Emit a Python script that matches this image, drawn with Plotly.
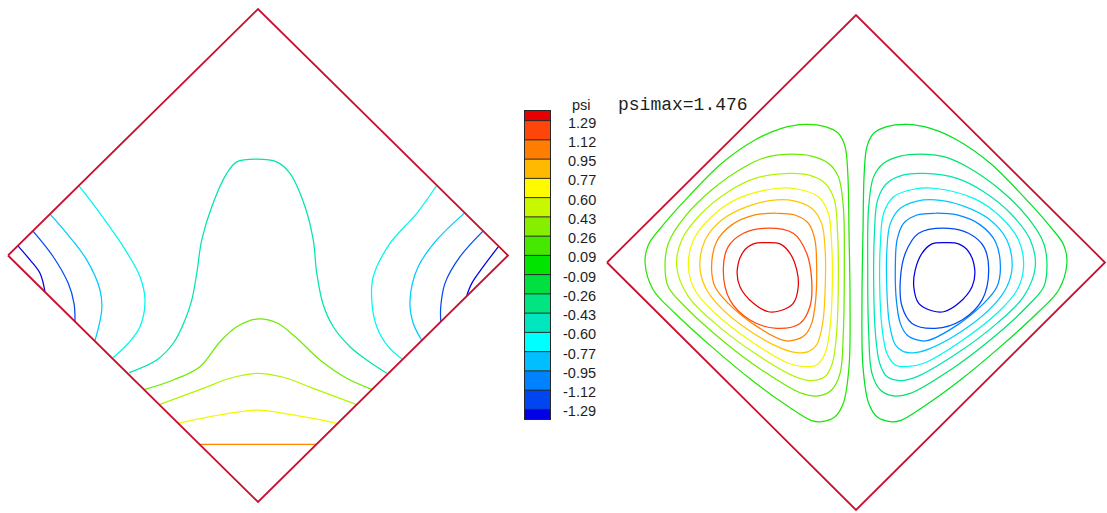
import plotly.graph_objects as go
from plotly.colors import sample_colorscale

W, H = 1107, 513

# ---- colour key -------------------------------------------------------------
levels = [-1.290, -1.118, -0.946, -0.774, -0.602, -0.430, -0.258, -0.086,
          0.086, 0.258, 0.430, 0.602, 0.774, 0.946, 1.118, 1.290]
band_colors = [
    "rgb(0,0,230)", "rgb(0,70,240)", "rgb(0,130,255)", "rgb(0,190,255)",
    "rgb(0,255,255)", "rgb(0,230,190)", "rgb(0,228,130)", "rgb(0,225,65)",
    "rgb(0,228,0)", "rgb(70,232,0)", "rgb(135,238,0)", "rgb(200,248,0)",
    "rgb(255,250,0)", "rgb(255,185,0)", "rgb(255,125,0)", "rgb(255,70,10)",
    "rgb(232,0,0)",
]
psi_max = 1.476

# ---- left panel: isolines (diamond frame, corners at (+-1,0), (0,+-1)) ------
left_levels = [0.946, 0.602, 0.430, 0.258, -0.430,
               -0.602, -0.774, -1.118, -1.290,
               -0.602, -0.774, -1.118, -1.290]
left_x = [
    [-0.233, 0.000, 0.233],
    [-0.319, -0.152, -0.005, 0.141, 0.317],
    [-0.392, -0.219, -0.112, -0.005, 0.101, 0.221, 0.392],
    [-0.452, -0.339, -0.232, -0.152, -0.085, -0.005, 0.075, 0.148, 0.248, 0.355, 0.455],
    [-0.515, -0.405, -0.339, -0.292, -0.265, -0.245, -0.225, -0.185, -0.125, -0.085,
     -0.005, 0.075, 0.128, 0.188, 0.221, 0.235, 0.261, 0.301, 0.368, 0.435, 0.515],
    [-0.716, -0.632, -0.539, -0.472, -0.452, -0.472, -0.519, -0.579],
    [-0.832, -0.765, -0.685, -0.632, -0.625, -0.652],
    [-0.900, -0.819, -0.759, -0.736, -0.732],
    [-0.960, -0.912, -0.872, -0.852],
    [0.716, 0.635, 0.528, 0.461, 0.455, 0.475, 0.521, 0.575],
    [0.828, 0.715, 0.641, 0.608, 0.621, 0.655],
    [0.900, 0.808, 0.748, 0.731, 0.731],
    [0.964, 0.901, 0.855, 0.835],
]
left_y = [
    [-0.766, -0.766, -0.766],
    [-0.681, -0.647, -0.627, -0.647, -0.681],
    [-0.604, -0.539, -0.498, -0.478, -0.494, -0.539, -0.604],
    [-0.543, -0.505, -0.451, -0.350, -0.289, -0.258, -0.273, -0.329, -0.424, -0.498, -0.543],
    [-0.475, -0.424, -0.356, -0.262, -0.181, -0.072, 0.063, 0.198, 0.333, 0.380,
     0.391, 0.380, 0.333, 0.198, 0.063, -0.072, -0.200, -0.289, -0.370, -0.424, -0.478],
    [0.282, 0.171, 0.036, -0.086, -0.181, -0.289, -0.356, -0.414],
    [0.168, 0.090, -0.018, -0.140, -0.221, -0.345],
    [0.099, -0.005, -0.113, -0.194, -0.268],
    [0.039, -0.018, -0.072, -0.148],
    [0.286, 0.171, 0.049, -0.086, -0.181, -0.289, -0.370, -0.419],
    [0.174, 0.063, -0.045, -0.181, -0.275, -0.344],
    [0.099, -0.005, -0.113, -0.208, -0.268],
    [0.039, -0.045, -0.113, -0.163],
]

# ---- right panel: streamlines of the two counter-rotating cells -------------
cw_levels = [0.086, 0.258, 0.430, 0.602, 0.774, 0.946, 1.118, 1.290]
cw_x = [
    [-0.847, -0.834, -0.780, -0.673, -0.539, -0.406, -0.299, -0.205, -0.124, -0.071, -0.044, -0.033,
     -0.028, -0.024, -0.028, -0.051, -0.084, -0.138, -0.178, -0.272, -0.419, -0.580, -0.727, -0.814],
    [-0.767, -0.754, -0.687, -0.580, -0.446, -0.352, -0.258, -0.178, -0.111, -0.071, -0.051,
     -0.047, -0.051, -0.064, -0.098, -0.151, -0.218, -0.379, -0.539, -0.687, -0.754],
    [-0.720, -0.700, -0.620, -0.513, -0.406, -0.272, -0.191, -0.124, -0.087, -0.074,
     -0.071, -0.078, -0.095, -0.124, -0.178, -0.245, -0.406, -0.566, -0.673],
    [-0.673, -0.653, -0.580, -0.473, -0.312, -0.232, -0.151, -0.111, -0.098,
     -0.095, -0.104, -0.124, -0.158, -0.205, -0.272, -0.419, -0.566, -0.647],
    [-0.627, -0.606, -0.539, -0.432, -0.319, -0.245, -0.178, -0.138, -0.124,
     -0.124, -0.134, -0.158, -0.191, -0.238, -0.299, -0.432, -0.553, -0.606],
    [-0.580, -0.560, -0.499, -0.406, -0.319, -0.245, -0.191, -0.165, -0.158,
     -0.162, -0.178, -0.205, -0.245, -0.285, -0.406, -0.513, -0.566],
    [-0.372, -0.252, -0.198, -0.178, -0.185, -0.225, -0.319, -0.426, -0.506, -0.533, -0.513, -0.452],
    [-0.365, -0.305, -0.265, -0.238, -0.232, -0.252, -0.305, -0.352, -0.412, -0.466, -0.477, -0.452, -0.412],
]
cw_y = [
    [-0.003, 0.071, 0.145, 0.266, 0.401, 0.495, 0.542, 0.558, 0.549, 0.522, 0.468, 0.360,
     0.118, -0.152, -0.421, -0.569, -0.623, -0.643, -0.639, -0.582, -0.475, -0.340, -0.205, -0.111],
    [-0.017, 0.077, 0.185, 0.293, 0.387, 0.428, 0.438, 0.430, 0.401, 0.347, 0.226,
     -0.017, -0.286, -0.448, -0.515, -0.539, -0.529, -0.434, -0.313, -0.178, -0.098],
    [-0.017, 0.091, 0.199, 0.286, 0.340, 0.360, 0.354, 0.320, 0.253, 0.118,
     -0.084, -0.286, -0.407, -0.461, -0.477, -0.461, -0.367, -0.246, -0.138],
    [-0.017, 0.091, 0.185, 0.259, 0.300, 0.296, 0.266, 0.199, 0.077,
     -0.084, -0.259, -0.367, -0.414, -0.421, -0.407, -0.320, -0.205, -0.111],
    [-0.017, 0.091, 0.172, 0.228, 0.253, 0.248, 0.219, 0.158, 0.051,
     -0.111, -0.246, -0.333, -0.360, -0.364, -0.347, -0.273, -0.172, -0.098],
    [-0.017, 0.084, 0.152, 0.192, 0.199, 0.192, 0.158, 0.091, -0.017,
     -0.152, -0.246, -0.293, -0.313, -0.316, -0.253, -0.165, -0.098],
    [0.138, 0.118, 0.037, -0.071, -0.178, -0.246, -0.266, -0.232, -0.152, -0.030, 0.064, 0.118],
    [0.080, 0.075, 0.037, -0.030, -0.098, -0.165, -0.195, -0.199, -0.165, -0.098, -0.030, 0.044, 0.075],
]
ccw_levels = [-0.086, -0.258, -0.430, -0.602, -0.774, -0.946, -1.118, -1.290]
ccw_x = [
    [0.847, 0.834, 0.780, 0.673, 0.539, 0.406, 0.299, 0.205, 0.124, 0.071, 0.044, 0.033,
     0.028, 0.024, 0.028, 0.051, 0.084, 0.138, 0.178, 0.272, 0.419, 0.580, 0.727, 0.814],
    [0.767, 0.754, 0.687, 0.580, 0.446, 0.352, 0.258, 0.178, 0.111, 0.071, 0.051,
     0.047, 0.051, 0.064, 0.098, 0.151, 0.218, 0.379, 0.539, 0.687, 0.754],
    [0.720, 0.700, 0.620, 0.513, 0.406, 0.272, 0.191, 0.124, 0.087, 0.074,
     0.071, 0.078, 0.095, 0.124, 0.178, 0.245, 0.406, 0.566, 0.673],
    [0.673, 0.653, 0.580, 0.473, 0.312, 0.232, 0.151, 0.111, 0.098,
     0.095, 0.104, 0.124, 0.158, 0.205, 0.272, 0.419, 0.566, 0.647],
    [0.627, 0.606, 0.539, 0.432, 0.319, 0.245, 0.178, 0.138, 0.124,
     0.124, 0.134, 0.158, 0.191, 0.238, 0.299, 0.432, 0.553, 0.606],
    [0.580, 0.560, 0.499, 0.406, 0.319, 0.245, 0.191, 0.165, 0.158,
     0.162, 0.178, 0.205, 0.245, 0.285, 0.406, 0.513, 0.566],
    [0.372, 0.252, 0.198, 0.178, 0.185, 0.225, 0.319, 0.426, 0.506, 0.533, 0.513, 0.452],
    [0.365, 0.305, 0.265, 0.238, 0.232, 0.252, 0.305, 0.352, 0.412, 0.466, 0.477, 0.452, 0.412],
]
ccw_y = cw_y

# cavity outline (square rotated by 45 degrees)
boundary_x = [-1, 0, 1, 0, -1]
boundary_y = [0, 1, 0, -1, 0]

# ---- helpers ----------------------------------------------------------------
half_step = (levels[1] - levels[0]) / 2
z_lo, z_hi = levels[0] - half_step, levels[-1] + half_step
n_bands = len(band_colors)
scale = [[k / (n_bands - 1), c] for k, c in enumerate(band_colors)]


def level_color(v):
    # isolines take the colour map over the span of the contour levels
    t = (v - levels[0]) / (levels[-1] - levels[0])
    return sample_colorscale(scale, [min(1.0, max(0.0, t))])[0]


def iso_trace(xs, ys, v, xa, ya, closed=False):
    if closed:
        xs = list(xs) + [xs[0]]
        ys = list(ys) + [ys[0]]
    return go.Scatter(
        x=xs, y=ys, mode="lines", xaxis=xa, yaxis=ya,
        line=dict(color=level_color(v), width=1.25, shape="spline", smoothing=1.0),
        hoverinfo="skip", showlegend=False,
    )


fig = go.Figure()

for xs, ys, v in zip(left_x, left_y, left_levels):
    fig.add_trace(iso_trace(xs, ys, v, "x", "y"))
for xs, ys, v in zip(cw_x, cw_y, cw_levels):
    fig.add_trace(iso_trace(xs, ys, v, "x2", "y2", closed=True))
for xs, ys, v in zip(ccw_x, ccw_y, ccw_levels):
    fig.add_trace(iso_trace(xs, ys, v, "x2", "y2", closed=True))

edge = "rgb(200,16,48)"
for xa, ya in (("x", "y"), ("x2", "y2")):
    fig.add_trace(go.Scatter(x=boundary_x, y=boundary_y, mode="lines", xaxis=xa, yaxis=ya,
                             line=dict(color=edge, width=1.8), hoverinfo="skip",
                             showlegend=False))

# colour key drawn as a one-column heatmap with level separators
band_edges = [z_lo] + levels + [z_hi]
fig.add_trace(go.Heatmap(
    x=[0, 1], y=band_edges, z=[[k] for k in range(n_bands)],
    zmin=0, zmax=n_bands - 1, colorscale=scale, showscale=False,
    xaxis="x3", yaxis="y3", hoverinfo="skip",
))
sep_x, sep_y = [], []
for v in levels:
    sep_x += [0, 1, None]
    sep_y += [v, v, None]
fig.add_trace(go.Scatter(x=sep_x, y=sep_y, mode="lines", xaxis="x3", yaxis="y3",
                         line=dict(color="rgb(40,40,40)", width=1), hoverinfo="skip",
                         showlegend=False))

# ---- layout -----------------------------------------------------------------
PAD = 0.008


def dom_x(cx, hw):
    return [max(0.0, (cx - hw * (1 + PAD)) / W), min(1.0, (cx + hw * (1 + PAD)) / W)]


def dom_y(cy, hh):
    return [max(0.0, 1 - (cy + hh * (1 + PAD)) / H), min(1.0, 1 - (cy - hh * (1 + PAD)) / H)]


hidden = dict(visible=False, range=[-1 - PAD, 1 + PAD], fixedrange=True)
key_axis = dict(showline=True, mirror=True, linecolor="rgb(40,40,40)", linewidth=1,
                showticklabels=False, ticks="", showgrid=False, zeroline=False,
                fixedrange=True)

fig.update_layout(
    width=W, height=H, margin=dict(l=0, r=0, t=0, b=0),
    paper_bgcolor="white", plot_bgcolor="rgba(0,0,0,0)",
    xaxis=dict(hidden, domain=dom_x(258, 250)),
    yaxis=dict(hidden, domain=dom_y(255.5, 246.5)),
    xaxis2=dict(hidden, domain=dom_x(856, 249)),
    yaxis2=dict(hidden, domain=dom_y(262.5, 247.5)),
    xaxis3=dict(key_axis, range=[0, 1], domain=[525 / W, 550 / W], anchor="y3"),
    yaxis3=dict(key_axis, range=[z_lo, z_hi], domain=[1 - 419 / H, 1 - 111 / H], anchor="x3"),
)

annotations = []
for v in levels:
    annotations.append(dict(
        text=f"{v:.2f}", xref="paper", yref="y3", x=598 / W, y=v,
        xanchor="right", yanchor="middle", yshift=-2, showarrow=False,
        font=dict(family="Liberation Sans, Arial, sans-serif", size=14.5, color="rgb(30,30,30)"),
    ))
annotations.append(dict(
    text="psi", xref="paper", yref="y3", x=581 / W, y=z_hi,
    xanchor="center", yanchor="bottom", yshift=-4, showarrow=False,
    font=dict(family="Liberation Sans, Arial, sans-serif", size=14.5, color="rgb(30,30,30)"),
))
annotations.append(dict(
    text=f"psimax={psi_max:.3f}", xref="paper", yref="paper", x=616 / W, y=1 - 105 / H,
    xanchor="left", yanchor="middle", showarrow=False,
    font=dict(family="Liberation Mono, Courier New, monospace", size=18, color="rgb(30,30,30)"),
))
fig.update_layout(annotations=annotations)

fig.write_html("out.html")
